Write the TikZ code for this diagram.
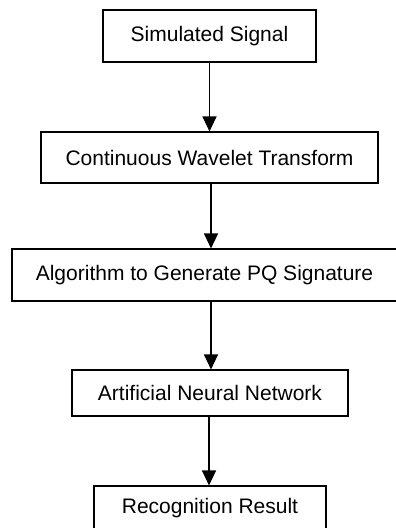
\documentclass[tikz,border=0pt]{standalone}
\usepackage{fontspec}
\setmainfont{Liberation Sans}
\usetikzlibrary{arrows.meta}
\begin{document}
\begin{tikzpicture}[x=1pt,y=-1pt,
  stagebox/.style={draw=black, line width=1.1pt, rectangle, inner sep=0pt,
    font=\fontsize{21}{25}\selectfont},
  flow/.style={line width=1.1pt, -{Triangle[width=14pt,length=15pt]}}]
\useasboundingbox (0,0) rectangle (396,528);
\clip (0,0) rectangle (396,528);
\node[stagebox, minimum width=213pt, minimum height=52pt] (b1) at (209.5,36) {Simulated Signal};
\node[stagebox, minimum width=337pt, minimum height=51pt] (b2) at (209.5,157.5) {Continuous Wavelet Transform};
\node[stagebox, minimum width=385pt, minimum height=52pt] (b3) at (204.5,275) {Algorithm to Generate PQ Signature};
\node[stagebox, minimum width=276pt, minimum height=46pt] (b4) at (210,393) {Artificial Neural Network};
\node[stagebox, minimum width=232pt, minimum height=44pt] (b5) at (210,508) {Recognition Result};
\draw[flow] (b1.south) -- (b1.south |- b2.north);
\draw[flow] ([xshift=1.5pt]b2.south) -- ([xshift=1.5pt]b2.south |- b3.north);
\draw[flow] ([xshift=6.5pt]b3.south) -- ([xshift=6.5pt]b3.south |- b4.north);
\draw[flow] ([xshift=-1pt]b4.south) -- ([xshift=-1pt]b4.south |- b5.north);
\end{tikzpicture}
\end{document}
